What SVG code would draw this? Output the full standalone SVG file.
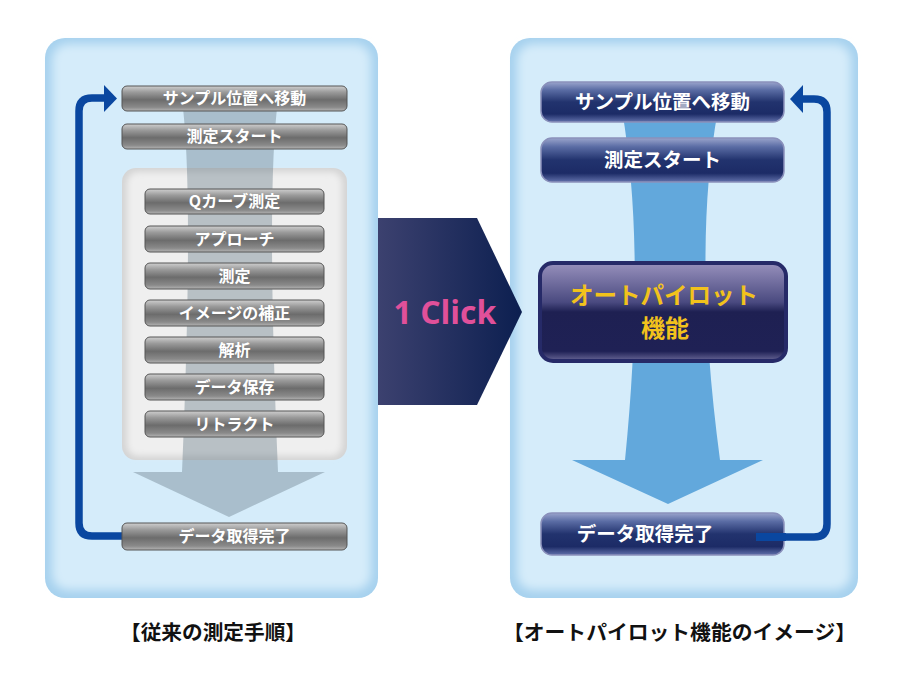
<svg xmlns="http://www.w3.org/2000/svg" width="900" height="688" viewBox="0 0 900 688">
<style>
.gt{font-family:"Noto Sans CJK JP","Noto Sans",sans-serif;font-weight:700;fill:#ffffff;text-anchor:middle}
.cap{font-family:"Noto Sans CJK JP","Noto Sans",sans-serif;font-weight:700;fill:#111111;font-size:20px}
.gbtn{fill:url(#gray);stroke:#555555;stroke-width:1}
.bbtn{fill:url(#blue);stroke:#8a90bb;stroke-width:1.5}
.loop{fill:none;stroke:#0a47a0;stroke-width:7.5;stroke-linejoin:round}
</style>
<defs>
<linearGradient id="gray" x1="0" y1="0" x2="0" y2="1">
<stop offset="0" stop-color="#cfcfcf"/>
<stop offset="0.25" stop-color="#9a9a9a"/>
<stop offset="0.55" stop-color="#6c6c6c"/>
<stop offset="0.85" stop-color="#8a8a8a"/>
<stop offset="1" stop-color="#b5b5b5"/>
</linearGradient>
<linearGradient id="blue" x1="0" y1="0" x2="0" y2="1">
<stop offset="0" stop-color="#9aa4cc"/>
<stop offset="0.2" stop-color="#5a6ca4"/>
<stop offset="0.5" stop-color="#22336e"/>
<stop offset="0.8" stop-color="#1c2b66"/>
<stop offset="1" stop-color="#6170aa"/>
</linearGradient>
<linearGradient id="auto" x1="0" y1="0" x2="0" y2="1">
<stop offset="0" stop-color="#9790bc"/>
<stop offset="0.4" stop-color="#4a4a80"/>
<stop offset="0.5" stop-color="#1e2052"/>
<stop offset="0.9" stop-color="#1f2155"/>
<stop offset="1" stop-color="#6a6898"/>
</linearGradient>
<linearGradient id="click" x1="0" y1="0" x2="1" y2="0">
<stop offset="0" stop-color="#3c416f"/>
<stop offset="1" stop-color="#0c1f50"/>
</linearGradient>
<filter id="soft" x="-5%" y="-5%" width="110%" height="110%">
<feGaussianBlur stdDeviation="5"/>
</filter>
<filter id="softg" x="-5%" y="-5%" width="110%" height="110%">
<feGaussianBlur stdDeviation="3"/>
</filter>
</defs>

<g id="panel-left">
<rect x="45" y="38" width="333" height="560" rx="20" fill="#a6d1ee"/>
<rect x="52" y="44" width="319" height="546" rx="16" fill="#d5ecfa" filter="url(#soft)"/>
</g>
<g id="panel-right">
<rect x="510" y="38" width="348" height="560" rx="20" fill="#a6d1ee"/>
<rect x="517" y="44" width="334" height="546" rx="16" fill="#d5ecfa" filter="url(#soft)"/>
</g>

<g id="inner-box">
<rect x="122" y="168" width="225" height="292" rx="14" fill="#d4d4d4"/>
<rect x="127" y="172" width="215" height="284" rx="11" fill="#efefef" filter="url(#softg)"/>
</g>

<g id="flow-left">
<path d="M182,100 L278,100 Q266,190 278,472 L325,472 L229,517 L133,472 L182,472 Q194,190 182,100 Z" fill="#667b88" fill-opacity="0.4"/>
</g>
<g id="flow-right">
<path d="M622,110 L718,110 Q692,250 720,460 L763,460 L668,504 L572,460 L625,460 Q646,250 622,110 Z" fill="#62a8dc"/>
</g>

<g id="connectors">
<path class="loop" d="M123,536 L92,536 Q79,536 79,523 L79,111 Q79,98 92,98 L106,98"/>
<polygon points="104,85 117,98.5 104,112" fill="#0a47a0"/>
<path class="loop" d="M756,537 L814,537 Q827,537 827,524 L827,112 Q827,99 814,99 L801,99"/>
<polygon points="803,85 790,99 803,113" fill="#0a47a0"/>
</g>

<g id="l-move">
<rect class="gbtn" x="122" y="86" width="225" height="25" rx="5"/>
<text class="gt" x="234.5" y="104" font-size="16">サンプル位置へ移動</text>
</g>
<g id="l-start">
<rect class="gbtn" x="122" y="124" width="225" height="25" rx="5"/>
<text class="gt" x="234.5" y="142" font-size="16">測定スタート</text>
</g>
<g id="l-q">
<rect class="gbtn" x="145" y="189" width="179" height="25" rx="5"/>
<text class="gt" x="234.5" y="207" font-size="16">Qカーブ測定</text>
</g>
<g id="l-approach">
<rect class="gbtn" x="145" y="226" width="179" height="26" rx="5"/>
<text class="gt" x="234.5" y="244.5" font-size="16">アプローチ</text>
</g>
<g id="l-measure">
<rect class="gbtn" x="145" y="263" width="179" height="26" rx="5"/>
<text class="gt" x="234.5" y="281.5" font-size="16">測定</text>
</g>
<g id="l-correct">
<rect class="gbtn" x="145" y="300" width="179" height="26" rx="5"/>
<text class="gt" x="234.5" y="318.5" font-size="16">イメージの補正</text>
</g>
<g id="l-analysis">
<rect class="gbtn" x="145" y="337" width="179" height="26" rx="5"/>
<text class="gt" x="234.5" y="355.5" font-size="16">解析</text>
</g>
<g id="l-save">
<rect class="gbtn" x="145" y="374" width="179" height="26" rx="5"/>
<text class="gt" x="234.5" y="392.5" font-size="16">データ保存</text>
</g>
<g id="l-retract">
<rect class="gbtn" x="145" y="411" width="179" height="26" rx="5"/>
<text class="gt" x="234.5" y="429.5" font-size="16">リトラクト</text>
</g>
<g id="l-done">
<rect class="gbtn" x="122" y="523" width="225" height="27" rx="5"/>
<text class="gt" x="234.5" y="542" font-size="16">データ取得完了</text>
</g>

<g id="r-move">
<rect class="bbtn" x="541" y="82" width="243" height="40" rx="11"/>
<text class="gt" x="662.5" y="109" font-size="19.5">サンプル位置へ移動</text>
</g>
<g id="r-start">
<rect class="bbtn" x="541" y="138" width="243" height="44" rx="11"/>
<text class="gt" x="662.5" y="167" font-size="19.5">測定スタート</text>
</g>
<g id="r-autopilot">
<rect x="540" y="263" width="246" height="98" rx="13" fill="url(#auto)" stroke="#262a68" stroke-width="4"/>
<text x="664" y="304" font-size="23.5" text-anchor="middle" font-family="'Noto Sans CJK JP','Noto Sans',sans-serif" font-weight="700" fill="#f2c21c">オートパイロット</text>
<text x="665" y="337" font-size="24" text-anchor="middle" font-family="'Noto Sans CJK JP','Noto Sans',sans-serif" font-weight="700" fill="#f2c21c">機能</text>
</g>
<g id="r-done">
<rect class="bbtn" x="541" y="513" width="243" height="42" rx="11"/>
<text class="gt" x="645" y="541" font-size="19.5">データ取得完了</text>
</g>
<g id="r-done-line">
<path d="M756,537 L786,537" stroke="#0a47a0" stroke-width="8"/>
</g>

<g id="click-arrow">
<polygon points="378,218 477,218 522,312 477,405 378,405" fill="url(#click)"/>
<text x="445" y="324" font-size="32" text-anchor="middle" font-family="'Open Sans','Noto Sans',sans-serif" font-weight="700" fill="#e0509a">1 Click</text>
</g>

<g id="captions">
<text class="cap" x="120" y="640" textLength="186" lengthAdjust="spacingAndGlyphs">【従来の測定手順】</text>
<text class="cap" x="503" y="640" textLength="353" lengthAdjust="spacingAndGlyphs">【オートパイロット機能のイメージ】</text>
</g>
</svg>
